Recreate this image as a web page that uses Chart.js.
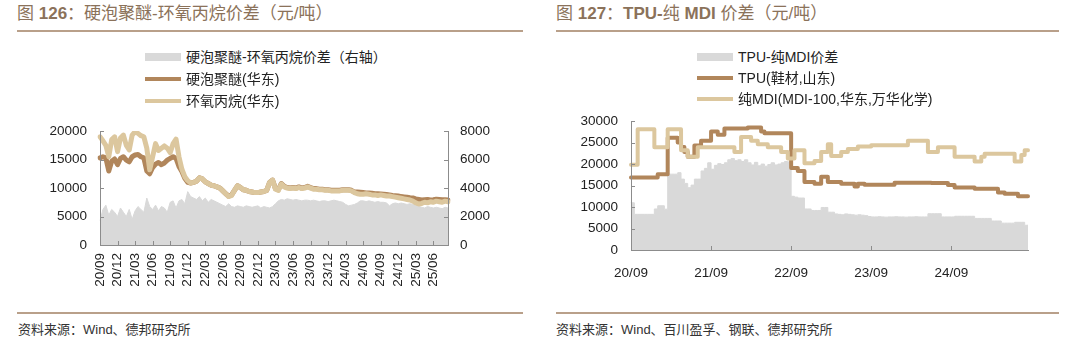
<!DOCTYPE html>
<html>
<head>
<meta charset="utf-8">
<script src="https://cdn.jsdelivr.net/npm/chart.js@4.4.1/dist/chart.umd.min.js"></script>
<style>
  body { margin: 0; width: 1080px; height: 344px; background: #fff; position: relative; overflow: hidden;
         font-family: "Liberation Sans", "Noto Sans CJK SC", sans-serif; }
  .title { position: absolute; top: 4px; font-size: 17px; line-height: 20px; color: #8b725a; white-space: nowrap; }
  .title b { font-weight: bold; }
  .rule { position: absolute; height: 2px; background: #b9a08a; }
  .note { position: absolute; top: 321px; font-size: 13px; line-height: 18px; color: #333; white-space: nowrap; }
  .item { position: absolute; height: 20px; line-height: 20px; font-size: 14px; color: #222;
          white-space: nowrap; display: flex; align-items: center; }
  .sw { display: inline-block; width: 36px; margin-right: 5px; }
  .wrap { position: absolute; width: 540px; height: 200px; }
</style>
</head>
<body>
<div class="title" style="left:17px">图 <b>126</b>：硬泡聚醚-环氧丙烷价差（元/吨）</div>
<div class="rule" style="left:17px; top:30px; width:506px"></div>
<div class="title" style="left:556px">图 <b>127</b>：<b>TPU-</b>纯 <b>MDI</b> 价差（元/吨）</div>
<div class="rule" style="left:556px; top:30px; width:503px"></div>

<div class="wrap" style="left:0; top:110px"><canvas id="poChart" width="540" height="200"></canvas></div>
<div class="wrap" style="left:540px; top:100px"><canvas id="tpuChart" width="540" height="200"></canvas></div>

<div class="rule" style="left:17px; top:312px; width:506px"></div>
<div class="rule" style="left:556px; top:312px; width:503px"></div>
<div class="note" style="left:18px">资料来源：Wind、德邦研究所</div>
<div class="note" style="left:556px">资料来源：Wind、百川盈孚、钢联、德邦研究所</div>

<script>
// semi-monthly sample dates, Sep 2020 to Aug 2025
const halfMonths = [];
for (let k = 0; k < 120; k++) {
  const m = 8 + Math.floor(k / 2);
  const yy = 20 + Math.floor(m / 12);
  const mm = String(m % 12 + 1).padStart(2, '0');
  halfMonths.push(k % 2 === 0 ? `${yy}/${mm}` : `${yy}/${mm}/16`);
}

const quarterTicks = ['20/09', '20/12', '21/03', '21/06', '21/09', '21/12', '22/03', '22/06', '22/09', '22/12',
  '23/03', '23/06', '23/09', '23/12', '24/03', '24/06', '24/09', '24/12', '25/03', '25/06'];
const yearTicks = ['20/09', '21/09', '22/09', '23/09', '24/09'];

// 硬泡聚醚-环氧丙烷价差, right axis
const polyetherSpread = [
  1700, 2500, 2800, 2100, 2500, 2300, 2000, 2600, 2300, 2000,
  2500, 1800, 2400, 2700, 2500, 2300, 3300, 2700, 2500, 2800,
  2400, 2700, 2600, 2300, 3000, 3100, 2600, 3100, 3200, 2900,
  3750, 3400, 3300, 3200, 3400, 3100, 3300, 3000, 3200, 3100,
  3000, 2900, 2800, 2700, 2900, 2700, 2650, 2750, 2700, 2650,
  2750, 2700, 2650, 2700, 2750, 2600, 2700, 2650, 2600, 2700,
  2900, 3100, 3200, 3150, 3250, 3200, 3150, 3200, 3150, 3100,
  3150, 3150, 3100, 3150, 3100, 3050, 3100, 3100, 3050, 3100,
  3150, 3100, 3050, 3000, 2850, 2750, 2800, 2850, 2950, 3100,
  3100, 3050, 3100, 3050, 3000, 3050, 3000, 3000, 2950, 2750,
  2900, 2950, 2900, 2950, 2900, 2850, 2900, 2850, 2800, 2700,
  2650, 2600, 2700, 2650, 2600, 2650, 2600, 2550, 2650, 2600
];

// 硬泡聚醚(华东)
const polyether = [
  15300, 15500, 15300, 13000, 14700, 15100, 14100, 15200, 15500, 14900,
  14600, 15500, 15800, 15900, 15500, 15300, 13000, 12500, 13600, 14200,
  14500, 14100, 14400, 14900, 15200, 15500, 15200, 13800, 12900, 11700,
  11000, 10900, 11000, 11200, 11800, 11600, 11100, 10800, 10500, 10400,
  10200, 10000, 9500, 9000, 8600, 8800, 9600, 10400, 10100, 9700,
  9600, 9400, 9300, 9200, 9200, 9300, 9400, 9600, 11000, 11400,
  9900, 9700, 10800, 10300, 10100, 10000, 10100, 10000, 10200, 10000,
  10100, 10300, 10100, 9900, 9900, 9800, 9800, 9700, 9700, 9600,
  9600, 9600, 9600, 9700, 9700, 9700, 9600, 9300, 9300, 9250,
  9200, 9150, 9150, 9100, 9000, 9000, 8950, 8900, 8850, 8800,
  8700, 8650, 8600, 8500, 8450, 8400, 8300, 8250, 8100, 8000,
  7900, 7950, 8000, 7900, 7950, 8050, 8000, 7950, 7950, 7900
];

// 环氧丙烷(华东)
const propyleneOxide = [
  19000, 18300, 17500, 15500, 18500, 19000, 16400, 18800, 19300, 17500,
  16700, 19300, 19900, 19600, 19200, 19000, 17000, 13200, 15500, 17800,
  16600, 17000, 17400, 17000, 16200, 17800, 18600, 15500, 13300, 12000,
  11300, 10900, 11000, 11200, 11800, 11600, 11100, 10800, 10500, 10400,
  10200, 10000, 9500, 9000, 8500, 8700, 9600, 10400, 10100, 9700,
  9600, 9400, 9300, 9200, 9200, 9300, 9400, 9600, 11000, 11400,
  9800, 9600, 10700, 10200, 10000, 9900, 10000, 9900, 10100, 9900,
  10000, 10200, 10000, 9800, 9800, 9700, 9700, 9600, 9600, 9500,
  9500, 9500, 9500, 9600, 9600, 9600, 9500, 9200, 9000, 8900,
  8900, 9000, 8900, 8800, 8800, 8700, 8800, 8700, 8600, 8600,
  8500, 8400, 8300, 8200, 8100, 8000, 7900, 7700, 7400, 7200,
  7300, 7500, 7400, 7600, 7500, 7700, 7600, 7500, 7700, 7600
];

// TPU-纯MDI价差
const tpuSpread = [
  11000, 8300, 8300, 8300, 8300, 8300, 8300, 9550, 10300, 10300,
  9500, 17650, 17650, 17650, 18000, 16500, 15500, 14500, 15100, 16500,
  16500, 18400, 19000, 20300, 18800, 19700, 20100, 19900, 20300, 21000,
  21300, 20800, 21000, 20600, 21000, 20300, 19800, 20400, 19600, 20000,
  19500, 19900, 20300, 19800, 20000, 20300, 20600, 20500, 12500, 12300,
  12100, 12100, 9550, 9550, 9200, 9200, 9200, 9900, 9900, 8800,
  8800, 8400, 8300, 8200, 8400, 8300, 8200, 8100, 8200, 8100,
  8000, 7800, 7700, 7700, 7750, 7700, 7650, 7700, 7700, 7750,
  7700, 7700, 7650, 7700, 7700, 7750, 7700, 7700, 7700, 8450,
  8450, 8450, 8450, 7700, 7700, 7700, 7700, 7850, 7850, 7850,
  7850, 7850, 7850, 7350, 7350, 7350, 7350, 7350, 6750, 6750,
  6750, 6250, 6250, 6250, 6250, 6450, 6450, 6450, 5750, 5750
];

// TPU(鞋材,山东)
const tpuPrice = [
  16900, 16900, 16900, 16900, 16900, 16900, 16900, 16900, 17650, 17650,
  17650, 26100, 26100, 26100, 25000, 24000, 22800, 21700, 21700, 24300,
  24300, 25400, 25400, 25400, 27600, 27600, 26800, 26800, 28300, 28300,
  28300, 28300, 28300, 28300, 28300, 28500, 28500, 28500, 28500, 27600,
  27200, 27200, 27200, 27200, 27200, 27200, 27200, 27200, 19100, 19100,
  18400, 18400, 15800, 15800, 15800, 15400, 15400, 17050, 17050, 15800,
  15800, 15800, 15800, 15400, 15400, 15400, 15400, 14800, 15400, 15400,
  15200, 15200, 15200, 15200, 15200, 15200, 15200, 15200, 15200, 15650,
  15650, 15650, 15650, 15650, 15650, 15650, 15650, 15650, 15650, 15650,
  15600, 15600, 15600, 15600, 15600, 15100, 15100, 14550, 14550, 14550,
  14550, 14550, 14550, 14250, 14250, 14250, 14250, 14250, 14250, 14250,
  13400, 13400, 13100, 13100, 13100, 13100, 12500, 12500, 12500, 12500
];

// 纯MDI(MDI-100,华东,万华化学)
const mdiPrice = [
  19850, 19850, 28100, 28100, 28100, 28100, 28100, 23900, 23900, 23900,
  23900, 28100, 28100, 28100, 28100, 23200, 23200, 21700, 21700, 21700,
  23900, 23900, 23900, 23900, 23900, 23900, 23900, 23900, 23900, 23900,
  23900, 22800, 22800, 26300, 26300, 26300, 25400, 25400, 24600, 24600,
  24600, 23900, 23900, 23900, 23900, 22800, 22800, 21300, 21300, 23200,
  23200, 23200, 20200, 20200, 20200, 20700, 20700, 22800, 22800, 24600,
  21900, 21900, 21900, 22800, 22800, 23500, 23500, 23500, 24100, 24100,
  24100, 24100, 24400, 24400, 24400, 24400, 24400, 24400, 24400, 24400,
  24400, 24400, 24400, 25400, 25400, 25400, 25400, 25400, 25400, 22800,
  22800, 22800, 23900, 23900, 23900, 23900, 23900, 21700, 21700, 21700,
  21700, 21700, 21700, 20600, 20600, 21700, 22400, 22400, 22400, 22400,
  22400, 22400, 22400, 22400, 22400, 20600, 20600, 22100, 23200, 23200
];

const BROWN = '#b1865b';
const TAN = '#dcc79e';
const GREY = '#d9d9d9';
const AXIS = '#8c8c8c';
const tickFont = { family: 'Liberation Sans', size: 13.5 };

// short tick marks pointing into the plot, as in the printed charts
const innerTicks = {
  id: 'innerTicks',
  afterDatasetsDraw(chart) {
    const { ctx, chartArea: a } = chart;
    ctx.save();
    ctx.strokeStyle = AXIS;
    ctx.lineWidth = 1;
    ctx.beginPath();
    Object.values(chart.scales).forEach(scale => {
      scale.ticks.forEach((t, i) => {
        if (t.label === '' || t.label == null) return;
        const p = Math.round(scale.getPixelForTick(i)) + 0.5;
        if (scale.axis === 'x') {
          ctx.moveTo(p, a.bottom); ctx.lineTo(p, a.bottom - 4);
        } else if (scale.position === 'left') {
          ctx.moveTo(a.left, p); ctx.lineTo(a.left + 4, p);
        } else {
          ctx.moveTo(a.right, p); ctx.lineTo(a.right - 4, p);
        }
      });
    });
    ctx.stroke();
    ctx.restore();
  }
};

function valueAxis(position, max, step, width, pad) {
  return {
    position, min: 0, max,
    grid: { drawOnChartArea: false, drawTicks: false },
    border: { color: AXIS, z: 1 },
    ticks: { stepSize: step, padding: pad, color: '#222', font: tickFont, callback: v => String(v) },
    afterFit: s => { s.width = width; }
  };
}

function dateAxis(list, rotation, pad, height) {
  return {
    grid: { drawOnChartArea: false, drawTicks: false },
    border: { color: AXIS, z: 1 },
    ticks: {
      autoSkip: false, minRotation: rotation, maxRotation: rotation, padding: pad,
      color: '#222', font: tickFont,
      callback(v) { const l = this.getLabelForValue(v); return list.includes(l) ? l : ''; }
    },
    afterFit: s => { s.height = height; }
  };
}

const common = {
  responsive: false,
  animation: false,
  events: [],
  plugins: { legend: { display: false }, tooltip: { enabled: false } },
  elements: { point: { radius: 0 }, line: { tension: 0, borderJoinStyle: 'round', borderCapStyle: 'round' } }
};

const poChart = new Chart(document.getElementById('poChart'), {
  type: 'line',
  data: {
    labels: halfMonths,
    datasets: [
      { label: '硬泡聚醚-环氧丙烷价差（右轴）', data: polyetherSpread, yAxisID: 'y1', fill: 'origin',
        backgroundColor: GREY, borderColor: GREY, borderWidth: 1, order: 3 },
      { label: '硬泡聚醚(华东)', data: polyether, yAxisID: 'y', borderColor: BROWN, borderWidth: 5, fill: false, order: 2 },
      { label: '环氧丙烷(华东)', data: propyleneOxide, yAxisID: 'y', borderColor: TAN, borderWidth: 5, fill: false, order: 1 }
    ]
  },
  options: {
    ...common,
    layout: { padding: { top: 14 } },
    scales: {
      x: dateAxis(quarterTicks, 90, 8, 65),
      y: valueAxis('left', 20000, 5000, 100, 13),
      y1: valueAxis('right', 8000, 2000, 92, 12)
    }
  },
  plugins: [innerTicks]
});

const tpuChart = new Chart(document.getElementById('tpuChart'), {
  type: 'line',
  data: {
    labels: halfMonths,
    datasets: [
      { label: 'TPU-纯MDI价差', data: tpuSpread, fill: 'origin', stepped: true,
        backgroundColor: GREY, borderColor: GREY, borderWidth: 1, order: 3 },
      { label: 'TPU(鞋材,山东)', data: tpuPrice, stepped: true, borderColor: BROWN, borderWidth: 4, fill: false, order: 2 },
      { label: '纯MDI(MDI-100,华东,万华化学)', data: mdiPrice, stepped: true, borderColor: TAN, borderWidth: 4, fill: false, order: 1 }
    ]
  },
  options: {
    ...common,
    layout: { padding: { top: 14, right: 52 } },
    scales: {
      x: dateAxis(yearTicks, 0, 15, 50),
      y: valueAxis('left', 30000, 5000, 91, 13)
    }
  },
  plugins: [innerTicks]
});

// stacked legend rows built from the chart's own datasets
function buildLegend(chart, x, rows) {
  chart.data.datasets.forEach((ds, k) => {
    const row = document.createElement('div');
    row.className = 'item';
    row.style.left = x + 'px';
    row.style.top = (rows[k] - 10) + 'px';
    const sw = document.createElement('span');
    sw.className = 'sw';
    sw.style.height = ds.fill ? '8px' : '4px';
    sw.style.background = ds.fill ? ds.backgroundColor : ds.borderColor;
    row.appendChild(sw);
    row.appendChild(document.createTextNode(ds.label));
    document.body.appendChild(row);
  });
}
buildLegend(poChart, 145, [57, 79, 101]);
buildLegend(tpuChart, 697, [57, 78, 99]);
</script>
</body>
</html>
